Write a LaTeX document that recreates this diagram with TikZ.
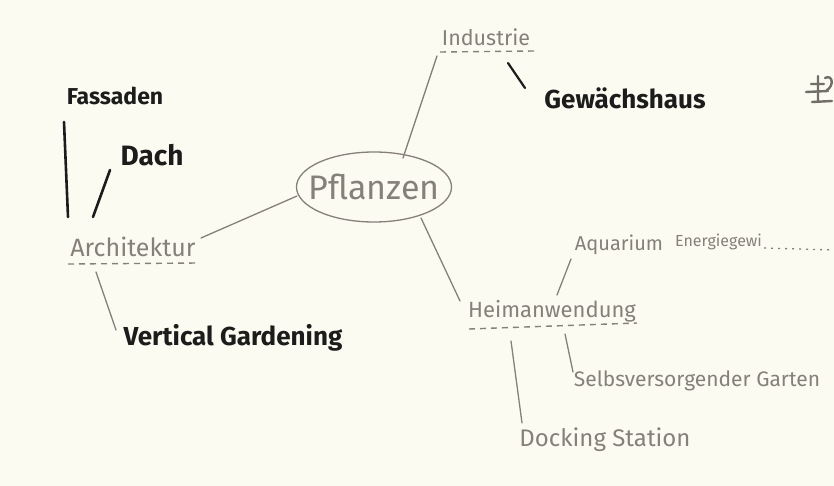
\documentclass[tikz,border=0pt]{standalone}
\usepackage{fontspec}
\usetikzlibrary{shapes.geometric}
\setmainfont{Fira Sans}
\definecolor{paper}{HTML}{FCFBF2}
\definecolor{pencil}{HTML}{858079}
\definecolor{marker}{HTML}{1C1C1C}
\begin{document}
\begin{tikzpicture}[x=1pt,y=-1pt,
  pen/.style={draw=pencil,line width=1.3pt,line cap=round},
  ink/.style={draw=marker,line width=2.6pt,line cap=round},
  gtext/.style={text=pencil,inner sep=0pt,font=\fontsize{19}{19}\selectfont},
  btext/.style={text=marker,inner sep=0pt,font=\bfseries\fontsize{20}{20}\selectfont},
  dashline/.style={draw=pencil,line width=1.4pt,dash pattern=on 6pt off 5pt}]
\fill[paper] (0,0) rectangle (834,486);
\useasboundingbox (0,0) rectangle (834,486);
% central
\node[draw=pencil,line width=1.3pt,ellipse,minimum width=155pt,minimum height=70pt,inner sep=0pt] (pfl) at (374,187) {};
\node[gtext,font=\fontsize{34}{34}\selectfont] (pfltxt) at (pfl.center) {Pflanzen};
% nodes
\node[gtext,font=\fontsize{21.5}{21.5}\selectfont] (ind) at (486,37) {Industrie};
\node[btext,font=\bfseries\fontsize{26}{26}\selectfont] (gew) at (625,98) {Gewächshaus};
\node[btext,font=\bfseries\fontsize{23}{23}\selectfont] (fas) at (115,96) {Fassaden};
\node[btext,font=\bfseries\fontsize{28}{28}\selectfont] (dach) at (152,155) {Dach};
\node[gtext,font=\fontsize{25}{25}\selectfont] (arch) at (133,247) {Architektur};
\node[btext,font=\bfseries\fontsize{26}{26}\selectfont] (vert) at (233,338) {Vertical Gardening};
\node[gtext,font=\fontsize{22}{22}\selectfont] (heim) at (552,311) {Heimanwendung};
\node[gtext,font=\fontsize{20}{20}\selectfont] (aqua) at (619,245) {Aquarium};
\node[gtext,font=\fontsize{16}{16}\selectfont,anchor=west] (ener) at (675,242) {Energiegewi};
\node[gtext,font=\fontsize{21}{21}\selectfont] (selb) at (697,381) {Selbsversorgender Garten};
\node[gtext,font=\fontsize{24}{24}\selectfont] (dock) at (605,440) {Docking Station};
% underlines
\coordinate (indL) at (440,52); \coordinate (indR) at (534,51);
\draw[dashline] (indL) -- (indR);
\coordinate (archL) at (68,264); \coordinate (archR) at (198,263);
\draw[dashline] (archL) -- (archR);
\coordinate (heimL) at (469,329); \coordinate (heimR) at (637,323);
\draw[dashline] (heimL) -- (heimR);
\coordinate (enerE) at (834,250);
\draw[draw=pencil,line width=1.3pt,dash pattern=on 2pt off 5pt] (ener.east) ++(2,6) -- (enerE);
% connectors
\coordinate (c1a) at (403,158); \coordinate (c1b) at (437,56);
\draw[pen] (c1a) -- (c1b);
\coordinate (c2a) at (508,63); \coordinate (c2b) at (525,88);
\draw[ink,line width=2.2pt] (c2a) -- (c2b);
\coordinate (c3a) at (64,122); \coordinate (c3b) at (68,217);
\draw[ink] (c3a) -- (c3b);
\coordinate (c4a) at (110,170); \coordinate (c4b) at (93,217);
\draw[ink] (c4a) -- (c4b);
\coordinate (c5a) at (297,196); \coordinate (c5b) at (201,238);
\draw[pen] (c5a) -- (c5b);
\coordinate (c6a) at (96,272); \coordinate (c6b) at (116,330);
\draw[pen] (c6a) -- (c6b);
\coordinate (c7a) at (421,218); \coordinate (c7b) at (460,301);
\draw[pen] (c7a) -- (c7b);
\coordinate (c8a) at (557,295); \coordinate (c8b) at (571,259);
\draw[pen] (c8a) -- (c8b);
\coordinate (c9a) at (565,334); \coordinate (c9b) at (573,372);
\draw[pen] (c9a) -- (c9b);
\coordinate (c10a) at (511,341); \coordinate (c10b) at (522,423);
\draw[pen] (c10a) -- (c10b);
% partial glyph at right edge
\draw[draw=pencil!85!black,line width=2.4pt,line cap=round]
  (806,92) -- (828,91) (818,76) -- (818,102) (811,84) -- (824,84)
  (812,102) -- (832,101) (825,78) .. controls (833,74) and (834,86) .. (827,90);
\end{tikzpicture}
\end{document}
